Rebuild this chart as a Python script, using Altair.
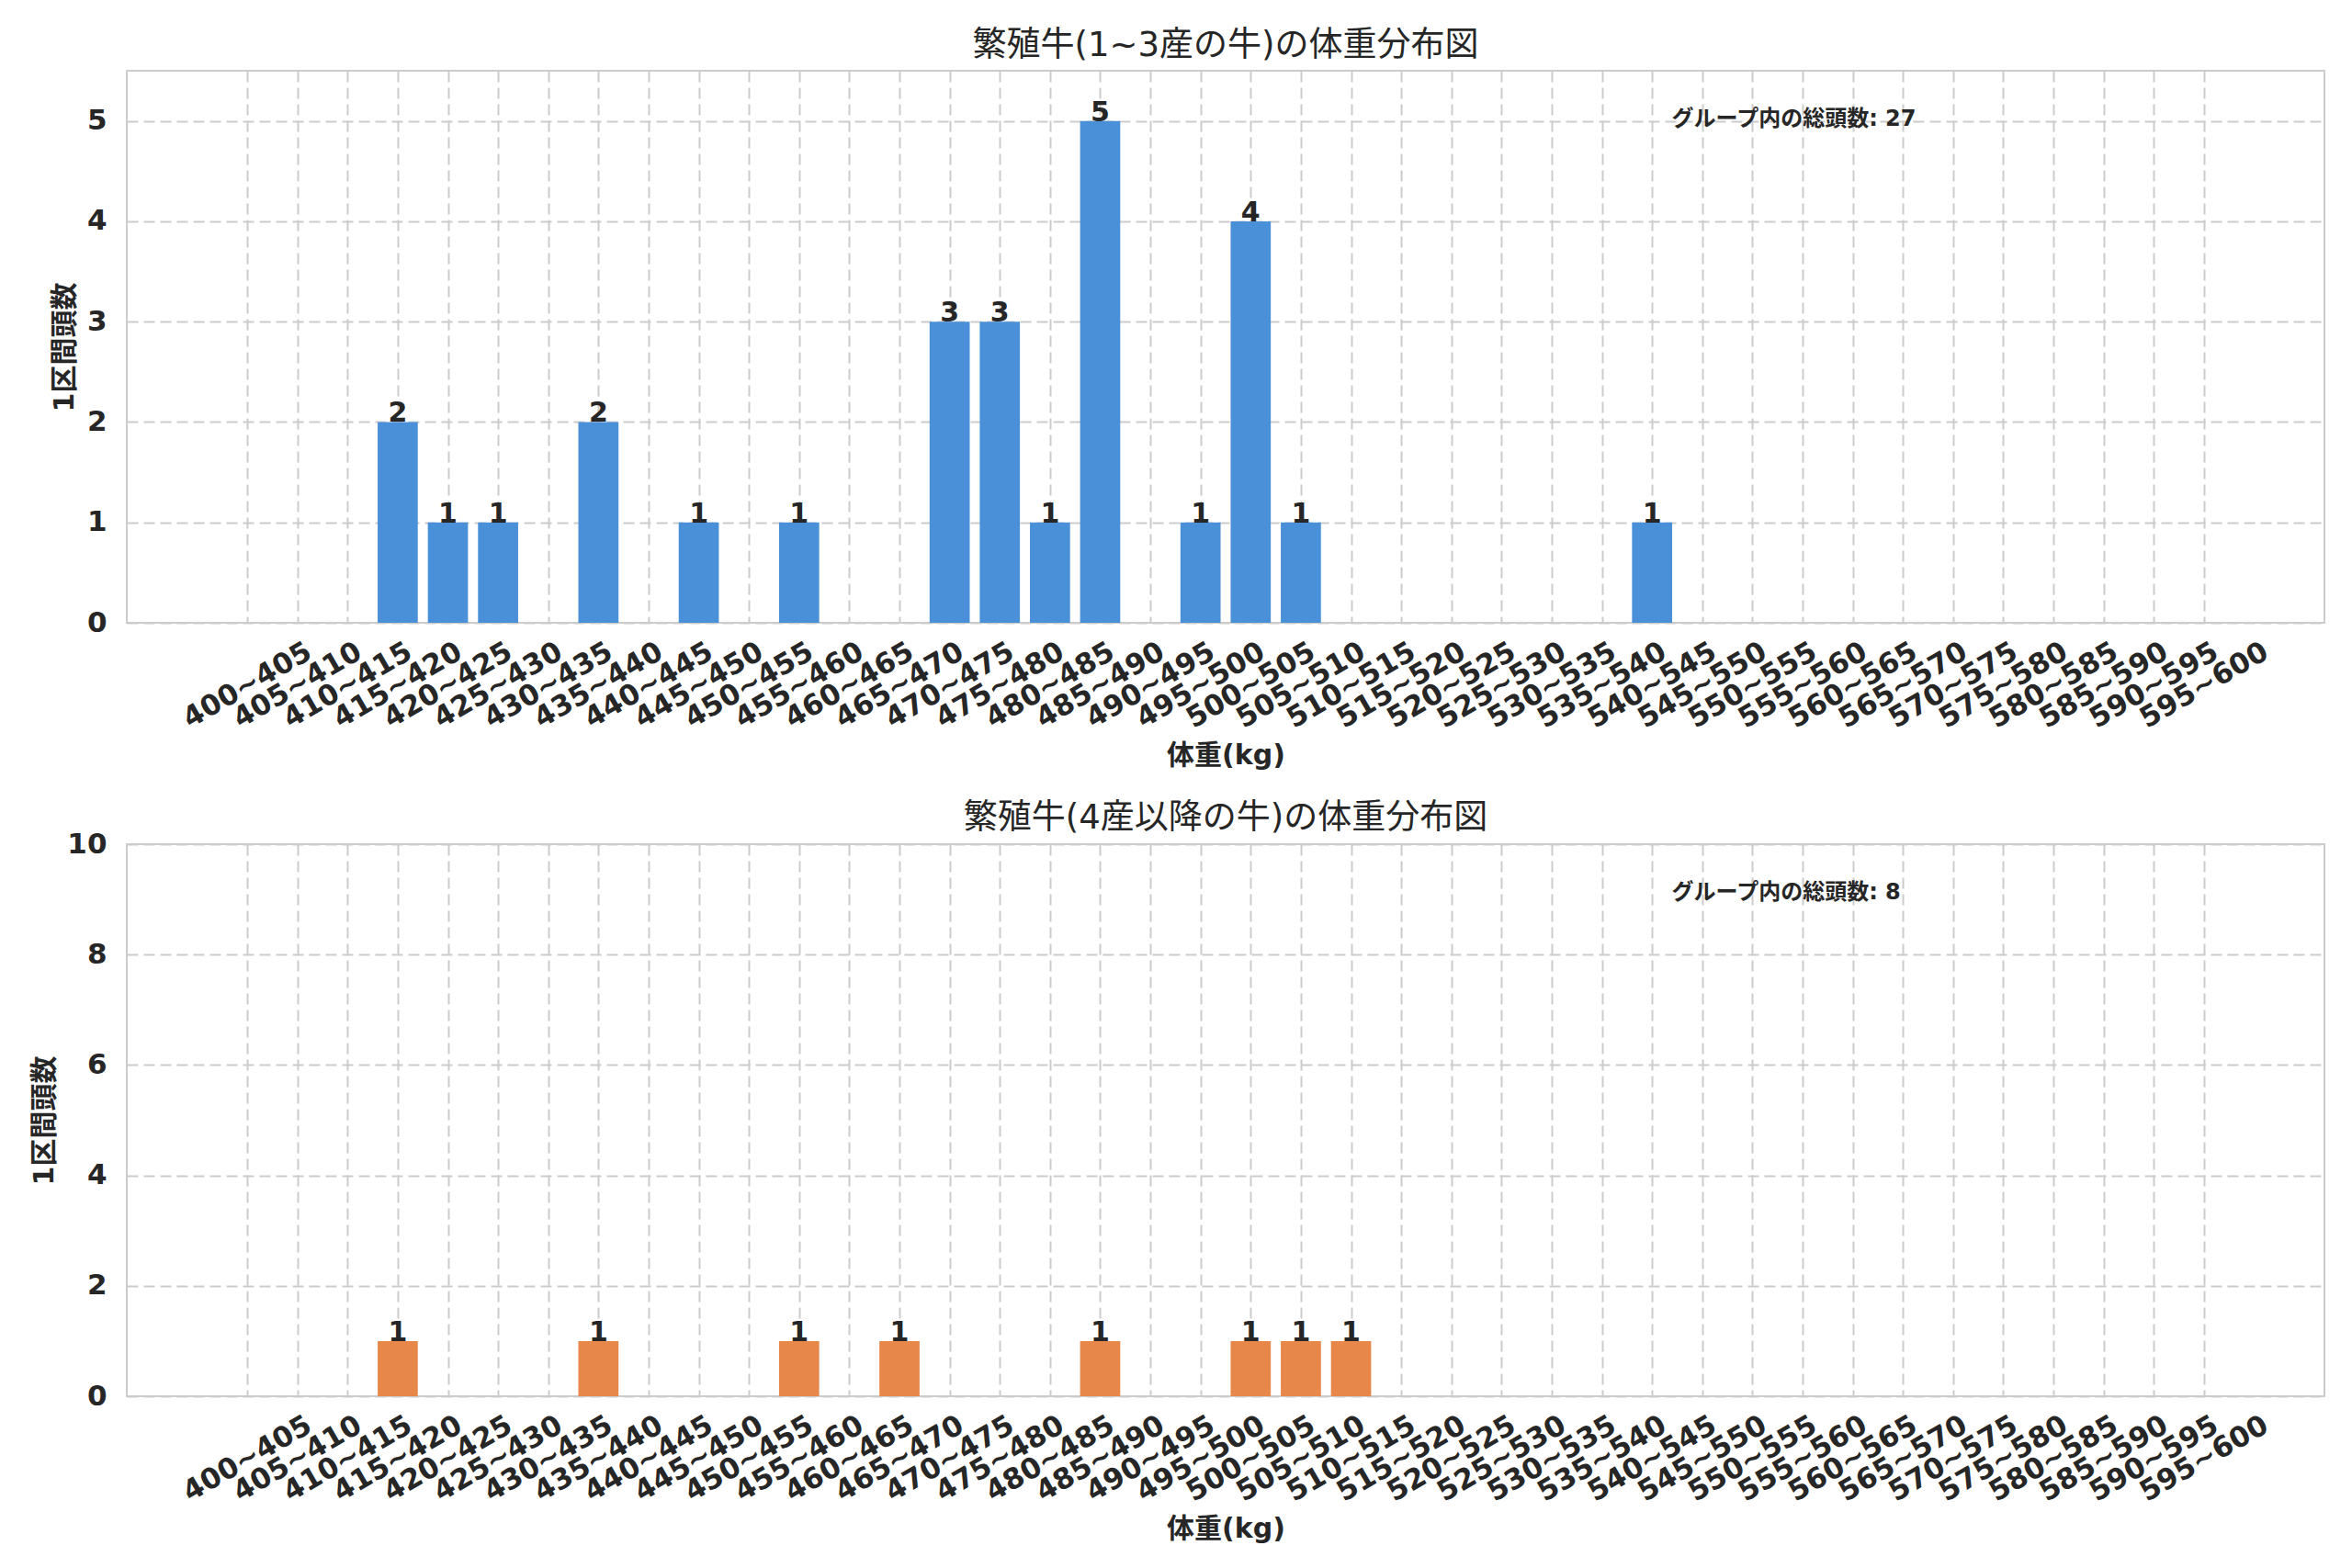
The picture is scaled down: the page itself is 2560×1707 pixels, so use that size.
import altair as alt
import pandas as pd
import json

categories = [
    "400~405", "405~410", "410~415", "415~420", "420~425", "425~430", "430~435", "435~440",
    "440~445", "445~450", "450~455", "455~460", "460~465", "465~470", "470~475", "475~480",
    "480~485", "485~490", "490~495", "495~500", "500~505", "505~510", "510~515", "515~520",
    "520~525", "525~530", "530~535", "535~540", "540~545", "545~550", "550~555", "555~560",
    "560~565", "565~570", "570~575", "575~580", "580~585", "585~590", "590~595", "595~600",
]
counts_group1 = [0, 0, 0, 2, 1, 1, 0, 2, 0, 1,
                 0, 1, 0, 0, 3, 3, 1, 5, 0, 1,
                 4, 1, 0, 0, 0, 0, 0, 0, 1, 0,
                 0, 0, 0, 0, 0, 0, 0, 0, 0, 0]
counts_group2 = [0, 0, 0, 1, 0, 0, 0, 1, 0, 0,
                 0, 1, 0, 1, 0, 0, 0, 1, 0, 0,
                 1, 1, 1, 0, 0, 0, 0, 0, 0, 0,
                 0, 0, 0, 0, 0, 0, 0, 0, 0, 0]

titles = ["繁殖牛(1~3産の牛)の体重分布図", "繁殖牛(4産以降の牛)の体重分布図"]
colors = ["#4a90d9", "#e8874a"]
y_max = [5.5, 10]
y_ticks = [[0, 1, 2, 3, 4, 5], [0, 2, 4, 6, 8, 10]]
x_title = "体重(kg)"
y_title = "1区間頭数"
total_label = "グループ内の総頭数"

W = 2392
H = 601
FONT = "DejaVu Sans, Noto Sans CJK JP"
LABEL_EXPR = json.dumps(categories) + "[datum.value]"
n = len(categories)


def panel(counts, title, color, ymax, ticks, title_offset):
    df = pd.DataFrame({"idx": list(range(n)), "count": counts})
    xscale = alt.Scale(domain=[-2.4, n - 1 + 2.4], nice=False, zero=False)
    xaxis = alt.Axis(
        title=x_title,
        values=list(range(n)),
        labelExpr=LABEL_EXPR,
        labelAngle=330,
        labelAlign="center",
        labelBaseline="middle",
        labelPadding=68,
        titlePadding=10,
        labelOverlap=False,
        labelFlush=False,
    )
    yscale = alt.Scale(domain=[0, ymax], nice=False)
    yaxis = alt.Axis(title=y_title, values=ticks, format="d",
                     labelPadding=22, titlePadding=9)
    base = alt.Chart(df)
    bars = base.transform_filter("datum.count > 0").transform_calculate(
        lo="datum.idx - 0.4", hi="datum.idx + 0.4"
    ).mark_bar(color=color).encode(
        x=alt.X("lo:Q", scale=xscale, axis=xaxis),
        x2="hi:Q",
        y=alt.Y("count:Q", scale=yscale, axis=yaxis),
        y2=alt.datum(0),
    )
    labels = base.transform_filter("datum.count > 0").mark_text(
        font=FONT, fontSize=30, fontWeight="bold", color="#262626",
        baseline="alphabetic", dy=0,
    ).encode(x="idx:Q", y="count:Q", text="count:Q")
    total = sum(counts)
    ann_df = pd.DataFrame({"t": [f"{total_label}: {total}"]})
    ann = alt.Chart(ann_df).mark_text(
        font=FONT, fontSize=24, fontWeight="bold", color="#262626",
        align="left", baseline="middle",
    ).encode(x=alt.value(0.703 * W), y=alt.value(53), text="t:N")
    return alt.layer(bars, labels, ann).properties(
        width=W, height=H,
        title=alt.TitleParams(title, fontSize=37, fontWeight="normal", font=FONT,
                              color="#262626", offset=title_offset),
    )


top = panel(counts_group1, titles[0], colors[0], y_max[0], y_ticks[0], 8)
bottom = panel(counts_group2, titles[1], colors[1], y_max[1], y_ticks[1], -7)

chart = alt.vconcat(top, bottom, spacing=32).properties(
    padding={"top": 22, "left": 24, "right": 10, "bottom": 10},
    background="white",
).configure_view(
    stroke="#cccccc", strokeWidth=2,
).configure_axis(
    domain=False,
    ticks=False,
    grid=True,
    gridColor="#cccccc",
    gridDash=[12, 6],
    gridWidth=2,
    labelFont=FONT,
    labelFontSize=31,
    labelFontWeight="bold",
    labelColor="#262626",
    titleFont=FONT,
    titleFontSize=30,
    titleFontWeight="bold",
    titleColor="#262626",
).resolve_scale(x="independent")

chart.save("out.html", embed_options={"renderer": "svg", "actions": False})
